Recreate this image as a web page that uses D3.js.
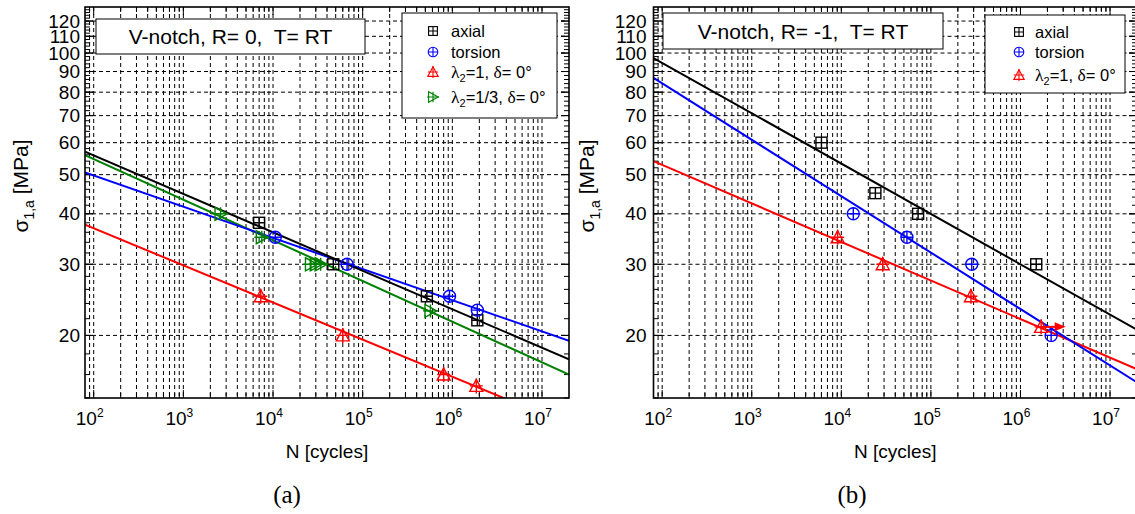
<!DOCTYPE html>
<html>
<head>
<meta charset="utf-8">
<script src="https://cdn.jsdelivr.net/npm/d3@7"></script>
<style>
  html, body { margin: 0; padding: 0; background: #fff; }
  svg { display: block; }
  text { font-family: "Liberation Sans", Arial, sans-serif; fill: #000; }
</style>
</head>
<body>
<svg id="chart" width="1135" height="514"></svg>
<script>
// ---- data: S-N results, N in cycles, sigma_1,a in MPa ----
const xTickValues = [1e2, 1e3, 1e4, 1e5, 1e6, 1e7];
const yTickValues = [20, 30, 40, 50, 60, 70, 80, 90, 100, 110, 120];

// (a) R = 0
const aTitle = "V-notch, R= 0,  T= RT";
const aAxial   = [[7.0e3, 38], [4.7e4, 30], [5.2e5, 25], [1.9e6, 21.8]];
const aTorsion = [[1.06e4, 35], [6.7e4, 30], [9.3e5, 25], [1.9e6, 23.1]];
const aLam1    = [[7.3e3, 25], [6.0e4, 20], [8.0e5, 16], [1.85e6, 15]];
const aLam13   = [[2.6e3, 40], [7.5e3, 35], [2.65e4, 30], [3.0e4, 30], [3.4e4, 30], [5.7e5, 23]];
const aFitAxial   = [[80, 57], [2e7, 17.45]];
const aFitTorsion = [[80, 50.6], [2e7, 19.4]];
const aFitLam1    = [[80, 37.6], [2e7, 12.0]];
const aFitLam13   = [[80, 55.9], [2e7, 16.0]];

// (b) R = -1
const bTitle = "V-notch, R= -1,  T= RT";
const bAxial   = [[6.0e3, 60], [2.4e4, 45], [7.2e4, 40], [1.5e6, 30]];
const bTorsion = [[1.36e4, 40], [5.4e4, 35], [2.86e5, 30], [2.2e6, 20]];
const bLam1    = [[9.1e3, 35], [2.9e4, 30], [2.8e5, 25], [1.7e6, 21]];
const bRunout  = [[1.7e6, 21], [3.2e6, 21]];
const bFitAxial   = [[80, 97.2], [2e7, 20.65]];
const bFitTorsion = [[80, 86.8], [2e7, 15.3]];
const bFitLam1    = [[80, 54.0], [2e7, 16.5]];

const xDomain = [80, 2e7];
const yDomain = [14, 130];

const BLACK = "#000000", BLUE = "#0000ff", RED = "#ff0000", GREEN = "#008000";

const svg = d3.select("#chart");

// marker glyphs, centred on (0,0)
function drawMarker(sel, kind, color) {
  const g = sel.append("g").attr("fill", "none").attr("stroke", color).attr("stroke-width", 1.4);
  if (kind === "square") {
    g.append("rect").attr("x", -5.5).attr("y", -5.5).attr("width", 11).attr("height", 11);
    g.append("path").attr("d", "M-5.5,0H5.5M0,-5.5V5.5");
  } else if (kind === "circle") {
    g.append("circle").attr("r", 6);
    g.append("path").attr("d", "M-6,0H6M0,-6V6");
  } else if (kind === "triUp") {
    g.append("path").attr("d", "M0,-6.5L6.5,5.5H-6.5Z");
    g.append("path").attr("d", "M-6.5,0H6.5M0,-7.5V7.5");
  } else if (kind === "triRight") {
    g.append("path").attr("d", "M6.5,0L-5.5,6.5V-6.5Z");
    g.append("path").attr("d", "M-7.5,0H7.5M0,-6.5V6.5");
  }
  return g;
}

function drawPanel(cfg) {
  const x = d3.scaleLog().domain(xDomain).range([cfg.left, cfg.right]);
  const y = d3.scaleLog().domain(yDomain).range([cfg.bottom, cfg.top]);
  const g = svg.append("g");
  const clipId = "clip-" + cfg.id;
  svg.append("clipPath").attr("id", clipId).append("rect")
    .attr("x", cfg.left).attr("y", cfg.top)
    .attr("width", cfg.right - cfg.left).attr("height", cfg.bottom - cfg.top);

  // minor x positions (1..9 times each decade)
  const xAll = [];
  for (let e = 1; e <= 7; e++) for (let k = 1; k <= 9; k++) {
    const v = k * Math.pow(10, e);
    if (v > xDomain[0] && v < xDomain[1]) xAll.push(v);
  }
  const yMinor = d3.range(14, 130, 2);

  // dashed grid
  const grid = g.append("g").attr("stroke", "#000").attr("stroke-width", 1)
    .attr("stroke-dasharray", "4,3").attr("fill", "none");
  grid.selectAll(".vx").data(xAll).join("line")
    .attr("x1", d => x(d)).attr("x2", d => x(d))
    .attr("y1", cfg.top).attr("y2", cfg.bottom);
  grid.selectAll(".hy").data(yTickValues).join("line")
    .attr("x1", cfg.left).attr("x2", cfg.right)
    .attr("y1", d => y(d)).attr("y2", d => y(d));

  // inward tick marks on all four sides
  const ticks = g.append("g").attr("stroke", "#000").attr("stroke-width", 1);
  ticks.selectAll(".tb").data(xAll).join("line")
    .attr("x1", d => x(d)).attr("x2", d => x(d))
    .attr("y1", cfg.bottom).attr("y2", d => cfg.bottom - (xTickValues.includes(d) ? 8 : 5));
  ticks.selectAll(".tt").data(xAll).join("line")
    .attr("x1", d => x(d)).attr("x2", d => x(d))
    .attr("y1", cfg.top).attr("y2", d => cfg.top + (xTickValues.includes(d) ? 8 : 5));
  ticks.selectAll(".tl").data(yMinor.concat(yTickValues)).join("line")
    .attr("x1", cfg.left).attr("x2", d => cfg.left + (yTickValues.includes(d) ? 8 : 5))
    .attr("y1", d => y(d)).attr("y2", d => y(d));
  ticks.selectAll(".tr").data(yMinor.concat(yTickValues)).join("line")
    .attr("x1", cfg.right).attr("x2", d => cfg.right - (yTickValues.includes(d) ? 8 : 5))
    .attr("y1", d => y(d)).attr("y2", d => y(d));

  // fitted S-N lines
  const line = d3.line().x(d => x(d[0])).y(d => y(d[1]));
  const lines = g.append("g").attr("clip-path", `url(#${clipId})`).attr("fill", "none").attr("stroke-width", 2);
  cfg.fits.forEach(f => lines.append("path").datum(f.data).attr("d", line).attr("stroke", f.color));

  // experimental points
  const pts = g.append("g").attr("clip-path", `url(#${clipId})`);
  cfg.series.forEach(s => {
    s.data.forEach(d => {
      const m = pts.append("g").attr("transform", `translate(${x(d[0])},${y(d[1])})`);
      drawMarker(m, s.marker, s.color);
    });
  });

  // run-out arrow
  if (cfg.runout) {
    const r = cfg.runout;
    const x0 = x(r.data[0][0]), x1 = x(r.data[1][0]), yy = y(r.data[0][1]);
    pts.append("line").attr("x1", x0).attr("x2", x1 - 8).attr("y1", yy).attr("y2", yy)
      .attr("stroke", r.color).attr("stroke-width", 2);
    pts.append("path").attr("d", `M${x1},${yy}L${x1 - 11},${yy - 4.5}L${x1 - 11},${yy + 4.5}Z`)
      .attr("fill", r.color);
  }

  // frame
  g.append("rect").attr("x", cfg.left).attr("y", cfg.top)
    .attr("width", cfg.right - cfg.left).attr("height", cfg.bottom - cfg.top)
    .attr("fill", "none").attr("stroke", "#000").attr("stroke-width", 1.6);

  // y tick labels
  g.selectAll(".yl").data(yTickValues).join("text")
    .attr("x", cfg.left - cfg.ylabelGap).attr("y", d => y(d) + 6.5)
    .attr("text-anchor", "end").attr("font-size", 19).text(d => d);

  // x tick labels 10^n
  xTickValues.forEach(v => {
    const t = g.append("text").attr("x", x(v) - 4).attr("y", 425)
      .attr("text-anchor", "middle").attr("font-size", 19);
    t.append("tspan").text("10");
    t.append("tspan").attr("dy", -8).attr("font-size", 12).text(Math.round(Math.log10(v)));
  });

  // axis titles
  g.append("text").attr("x", (cfg.left + cfg.right) / 2).attr("y", 458)
    .attr("text-anchor", "middle").attr("font-size", 19).text("N [cycles]");
  const yt = g.append("text").attr("transform", `translate(${cfg.ylabelX},186) rotate(-90)`)
    .attr("text-anchor", "middle").attr("font-size", 21);
  yt.append("tspan").text("σ");
  yt.append("tspan").attr("dy", 6).attr("font-size", 14).text("1,a");
  yt.append("tspan").attr("dy", -6).text(" [MPa]");

  // panel caption
  g.append("text").attr("x", cfg.captionX).attr("y", 503)
    .attr("text-anchor", "middle").attr("font-size", 25)
    .style("font-family", '"Liberation Serif", "Times New Roman", serif').text(cfg.caption);

  // title box
  const tb = cfg.titleBox;
  g.append("rect").attr("x", tb.x).attr("y", tb.y).attr("width", tb.w).attr("height", tb.h)
    .attr("fill", "#fff").attr("stroke", "#000").attr("stroke-width", 1);
  g.append("text").attr("x", tb.x + tb.w / 2).attr("y", tb.y + tb.h / 2 + 7.5)
    .attr("text-anchor", "middle").attr("font-size", 21)
    .style("white-space", "pre").attr("xml:space", "preserve").text(cfg.title);

  // legend
  const lb = cfg.legendBox;
  g.append("rect").attr("x", lb.x).attr("y", lb.y).attr("width", lb.w).attr("height", lb.h)
    .attr("fill", "#fff").attr("stroke", "#000").attr("stroke-width", 1);
  cfg.series.forEach((s, i) => {
    const yy = lb.rows[i];
    const m = g.append("g").attr("transform", `translate(${lb.mx},${yy})`);
    const mg = drawMarker(m, s.marker, s.color);
    mg.attr("transform", "scale(0.8)");
    const t = g.append("text").attr("x", lb.tx).attr("y", yy + 6).attr("font-size", 16.5);
    s.label.forEach(part => {
      const sp = t.append("tspan").text(part.t);
      if (part.sub) sp.attr("dy", 4).attr("font-size", 11);
      if (part.up) sp.attr("dy", -4);
      if (part.greek) sp.style("font-family", '"Liberation Serif", "Times New Roman", serif').attr("font-size", 17.5);
    });
  });
}

const labAxial = [{ t: "axial" }];
const labTorsion = [{ t: "torsion" }];
const labLam1 = [{ t: "λ", greek: true }, { t: "2", sub: true }, { t: "=1, ", up: true }, { t: "δ", greek: true }, { t: "= 0°" }];
const labLam13 = [{ t: "λ", greek: true }, { t: "2", sub: true }, { t: "=1/3, ", up: true }, { t: "δ", greek: true }, { t: "= 0°" }];

drawPanel({
  id: "a", left: 85, right: 569, top: 7, bottom: 398,
  ylabelGap: 5, ylabelX: 28, captionX: 287, caption: "(a)",
  title: aTitle, titleBox: { x: 96, y: 19, w: 269, h: 35 },
  legendBox: { x: 402, y: 13, w: 155, h: 105, mx: 433, tx: 451, rows: [31, 52, 72, 97] },
  fits: [
    { data: aFitLam1, color: RED },
    { data: aFitLam13, color: GREEN },
    { data: aFitTorsion, color: BLUE },
    { data: aFitAxial, color: BLACK }
  ],
  series: [
    { data: aAxial, marker: "square", color: BLACK, label: labAxial },
    { data: aTorsion, marker: "circle", color: BLUE, label: labTorsion },
    { data: aLam1, marker: "triUp", color: RED, label: labLam1 },
    { data: aLam13, marker: "triRight", color: GREEN, label: labLam13 }
  ]
});

drawPanel({
  id: "b", left: 653.5, right: 1137, top: 7, bottom: 398,
  ylabelGap: 7, ylabelX: 594, captionX: 852, caption: "(b)",
  title: bTitle, titleBox: { x: 663, y: 13, w: 280, h: 36 },
  legendBox: { x: 985, y: 15, w: 140, h: 78, mx: 1019, tx: 1035, rows: [32, 52, 75] },
  fits: [
    { data: bFitLam1, color: RED },
    { data: bFitTorsion, color: BLUE },
    { data: bFitAxial, color: BLACK }
  ],
  series: [
    { data: bAxial, marker: "square", color: BLACK, label: labAxial },
    { data: bTorsion, marker: "circle", color: BLUE, label: labTorsion },
    { data: bLam1, marker: "triUp", color: RED, label: labLam1 }
  ],
  runout: { data: bRunout, color: RED }
});
</script>
</body>
</html>
